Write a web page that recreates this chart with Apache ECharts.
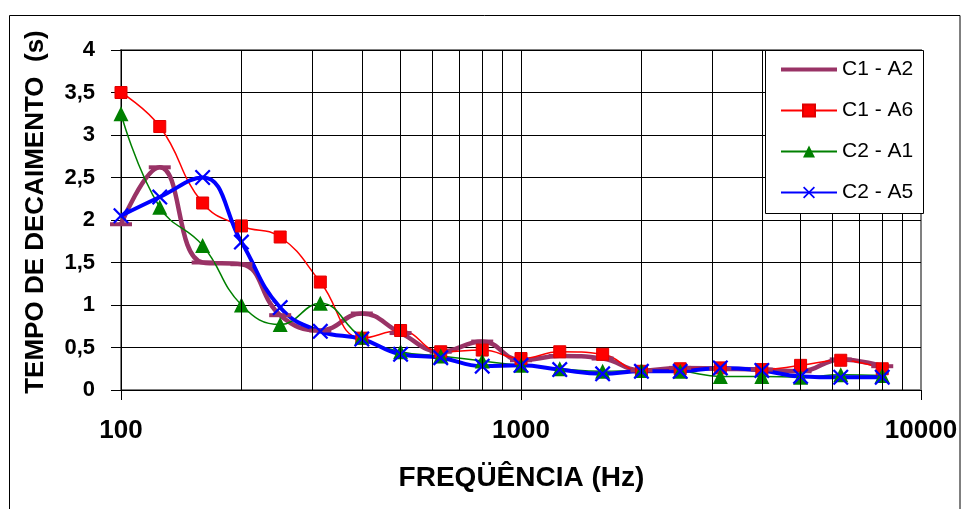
<!DOCTYPE html>
<html>
<head>
<meta charset="utf-8">
<script src="https://cdn.jsdelivr.net/npm/echarts@6/dist/echarts.min.js"></script>
<style>
  html, body { margin: 0; padding: 0; background: #fff; }
  #chart { width: 964px; height: 509px; }
</style>
</head>
<body>
<div id="chart"></div>
<script>
// Third-octave band centre frequencies (Hz)
const frequencies = [100, 125, 160, 200, 250, 315, 400, 500, 630, 800,
                     1000, 1250, 1600, 2000, 2500, 3150, 4000, 5000, 6300, 8000];

// Decay time (s) per measurement position
const seriesNames = ['C1 - A2', 'C1 - A6', 'C2 - A1', 'C2 - A5'];
const c1a2 = [1.95, 2.62, 1.50, 1.48, 0.88, 0.70, 0.90, 0.67, 0.45, 0.57,
              0.35, 0.40, 0.37, 0.23, 0.26, 0.25, 0.24, 0.22, 0.36, 0.28];
const c1a6 = [3.50, 3.10, 2.20, 1.93, 1.80, 1.27, 0.61, 0.70, 0.45, 0.47,
              0.37, 0.45, 0.42, 0.22, 0.25, 0.26, 0.24, 0.29, 0.35, 0.25];
const c2a1 = [3.25, 2.15, 1.70, 1.00, 0.77, 1.02, 0.62, 0.45, 0.40, 0.34,
              0.29, 0.25, 0.22, 0.23, 0.22, 0.16, 0.16, 0.15, 0.18, 0.17];
const c2a5 = [2.05, 2.27, 2.50, 1.74, 0.97, 0.69, 0.60, 0.42, 0.38, 0.28,
              0.29, 0.24, 0.19, 0.22, 0.22, 0.26, 0.23, 0.16, 0.15, 0.15];

// Axis settings
const yTicks = [0, 0.5, 1, 1.5, 2, 2.5, 3, 3.5, 4];
const xMin = 100, xMax = 10000;
// Intermediate vertical grid lines of the log axis
const minorGrid = [200, 300, 400, 500, 600, 700, 800, 900, 1000,
                   2000, 3000, 4000, 5000, 6000, 7000, 8000, 9000];

const FONT = '"Liberation Sans", Arial, sans-serif';
const crossPath = 'path://M0,1L1,0L5,4L9,0L10,1L6,5L10,9L9,10L5,6L1,10L0,9L4,5Z';

const pairs = arr => frequencies.map((f, i) => [f, arr[i]]);

const chart = echarts.init(document.getElementById('chart'), null, { renderer: 'canvas' });

chart.setOption({
  animation: false,
  backgroundColor: '#fff',
  textStyle: { fontFamily: FONT },
  grid: {
    left: 121, right: 43, top: 50, bottom: 119,
    show: true, borderColor: '#808080', borderWidth: 2, backgroundColor: 'transparent'
  },
  xAxis: {
    type: 'log', logBase: 10, min: xMin, max: xMax,
    axisLine: { show: true, onZero: false, lineStyle: { color: '#000', width: 1 } },
    axisTick: { show: true, inside: false, length: 10, lineStyle: { color: '#000', width: 1 } },
    axisLabel: {
      margin: 28, color: '#000', fontSize: 26, fontWeight: 'bold', fontFamily: FONT,
      formatter: v => String(Math.round(v))
    },
    splitLine: { show: false },
    minorTick: { show: false }
  },
  yAxis: {
    type: 'value', min: yTicks[0], max: yTicks[yTicks.length - 1], interval: 0.5,
    axisLine: { show: true, lineStyle: { color: '#000', width: 1 } },
    axisTick: { show: true, inside: false, length: 10, lineStyle: { color: '#000', width: 1 } },
    axisLabel: {
      margin: 26, color: '#000', fontSize: 22, fontWeight: 'bold', fontFamily: FONT,
      formatter: v => String(v).replace('.', ',')
    },
    splitLine: { show: true, lineStyle: { color: '#000', width: 1 } }
  },
  legend: {
    data: [
      { name: seriesNames[0], icon: 'path://M0,0H56V4H0Z' },
      { name: seriesNames[1] },
      { name: seriesNames[2] },
      { name: seriesNames[3] }
    ],
    orient: 'vertical',
    left: 780, top: 59,
    padding: 0,
    itemWidth: 56, itemHeight: 15, itemGap: 20,
    selectedMode: false,
    z: 7,
    textStyle: { fontSize: 21, lineHeight: 21, color: '#000', fontFamily: FONT, padding: [0, 0, 0, 0] }
  },
  graphic: [
    {
      type: 'rect', z: -1, silent: true,
      shape: { x: 9.5, y: 15.5, width: 950.5, height: 700 },
      style: { fill: 'none', stroke: '#000', lineWidth: 1 }
    },
    {
      type: 'rect', z: 6, zlevel: 0, silent: true,
      shape: { x: 765.5, y: 50.5, width: 158, height: 163 },
      style: { fill: '#fff', stroke: '#000', lineWidth: 1 }
    },
    {
      type: 'text', silent: true,
      x: 521.5, y: 478,
      style: {
        text: 'FREQÜÊNCIA (Hz)', font: 'bold 28px ' + FONT, fill: '#000',
        textAlign: 'center', textVerticalAlign: 'middle'
      }
    },
    {
      type: 'text', silent: true,
      x: 36, y: 212, rotation: Math.PI / 2,
      style: {
        text: 'TEMPO DE DECAIMENTO  (s)', font: 'bold 26px ' + FONT, fill: '#000',
        textAlign: 'center', textVerticalAlign: 'middle'
      }
    }
  ],
  series: [
    {
      // carries the vertical grid lines, drawn beneath the curves
      type: 'line', name: 'grid', data: [], silent: true,
      markLine: {
        silent: true, symbol: ['none', 'none'], animation: false,
        label: { show: false },
        lineStyle: { color: '#000', width: 1, type: 'solid' },
        emphasis: { disabled: true },
        data: minorGrid.map(v => ({ xAxis: v }))
      }
    },
    {
      name: seriesNames[0], type: 'line', smooth: 0.45,
      data: pairs(c1a2),
      symbol: 'rect', symbolSize: [22, 4],
      color: '#993366',
      itemStyle: { color: '#993366' },
      lineStyle: { color: '#993366', width: 4.5 }
    },
    {
      name: seriesNames[1], type: 'line', smooth: 0.45,
      data: pairs(c1a6),
      symbol: 'rect', symbolSize: 12,
      color: '#ff0000',
      itemStyle: { color: '#ff0000', borderColor: '#e00000', borderWidth: 1 },
      lineStyle: { color: '#ff0000', width: 1.5 }
    },
    {
      name: seriesNames[2], type: 'line', smooth: 0.45,
      data: pairs(c2a1),
      symbol: 'triangle', symbolSize: 15,
      color: '#008000',
      itemStyle: { color: '#008000' },
      lineStyle: { color: '#008000', width: 1.5 }
    },
    {
      name: seriesNames[3], type: 'line', smooth: 0.45,
      data: pairs(c2a5),
      symbol: crossPath, symbolSize: 16,
      color: '#0000ff',
      itemStyle: { color: '#0000ff' },
      lineStyle: { color: '#0000ff', width: 4 }
    }
  ]
});
</script>
</body>
</html>
